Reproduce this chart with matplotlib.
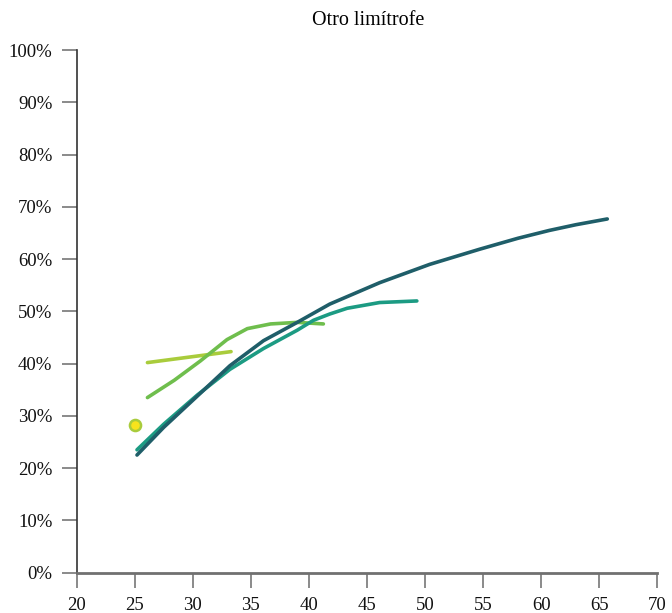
import matplotlib
matplotlib.use("Agg")
import matplotlib.pyplot as plt

plt.rcParams['font.family'] = ['Liberation Serif', 'DejaVu Serif']

# data (x = age, y = share in %)
dark_x = [25.2, 27.5, 30.4, 33.2, 36.1, 39.0, 41.8, 46.1, 50.4, 54.7, 58.0, 60.7, 63.0, 65.7]
dark_y = [22.5, 27.8, 33.8, 39.6, 44.4, 47.9, 51.4, 55.5, 59.0, 61.9, 64.0, 65.5, 66.6, 67.7]

teal_x = [25.2, 27.5, 30.4, 33.2, 36.1, 39.0, 40.4, 41.8, 43.3, 46.1, 49.3]
teal_y = [23.5, 28.4, 34.0, 38.9, 42.9, 46.4, 48.3, 49.5, 50.6, 51.7, 52.0]

mid_x = [26.1, 28.4, 30.65, 32.95, 34.7, 36.7, 39.0, 41.25]
mid_y = [33.5, 36.8, 40.5, 44.6, 46.7, 47.6, 47.9, 47.6]

light_x = [26.1, 33.3]
light_y = [40.2, 42.3]

dot_x = [25.07]
dot_y = [28.3]

xticks = [20, 25, 30, 35, 40, 45, 50, 55, 60, 65, 70]
yticks = [0, 10, 20, 30, 40, 50, 60, 70, 80, 90, 100]

fig = plt.figure(figsize=(6.72, 6.13), dpi=100)
ax = fig.add_axes([0.114, 0.066, 0.864, 0.852])

ax.plot(light_x, light_y, color='#a9cc3c', lw=2.6, solid_capstyle='round')
ax.plot(mid_x, mid_y, color='#6fbe4d', lw=2.6, solid_capstyle='round', solid_joinstyle='round')
ax.plot(teal_x, teal_y, color='#1c9b83', lw=2.6, solid_capstyle='round', solid_joinstyle='round')
ax.plot(dark_x, dark_y, color='#1f5e69', lw=2.6, solid_capstyle='round', solid_joinstyle='round')
ax.plot(dot_x, dot_y, 'o', ms=8, mfc='#f7e31c', mec='#a9cc3c', mew=1.8)

ax.set_xlim(20, 70)
ax.set_ylim(0, 100)
ax.set_xticks(xticks)
ax.set_yticks(yticks)
ax.set_yticklabels([f'{v}%' for v in yticks])
ax.tick_params(labelsize=13.5, length=10.5, width=1.2, color='#777777', labelcolor='#111111')
ax.tick_params(axis='y', pad=7)
ax.tick_params(axis='x', pad=7)

for s in ['top', 'right']:
    ax.spines[s].set_visible(False)
ax.spines['left'].set_color('#333333')
ax.spines['left'].set_linewidth(1.2)
ax.spines['bottom'].set_color('#707070')
ax.spines['bottom'].set_linewidth(2)

fig.text(0.548, 0.967, 'Otro limítrofe', ha='center', va='center', fontsize=14.5)

fig.savefig('out.png', dpi=100)
